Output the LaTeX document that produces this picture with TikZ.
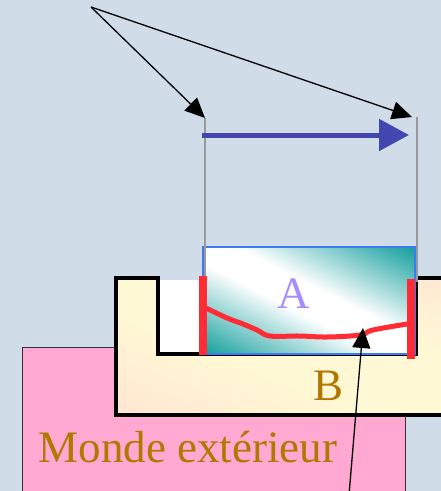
\documentclass[tikz,border=0pt]{standalone}
\usepackage{fontspec}
\setmainfont{Liberation Serif}
\usetikzlibrary{arrows.meta}
\definecolor{bgblue}{HTML}{D0DCE8}
\definecolor{worldpink}{HTML}{FFA8D2}
\definecolor{byellow}{HTML}{FFF8D4}
\definecolor{bpink}{HTML}{FFDAD2}
\definecolor{ateal}{HTML}{109E9C}
\definecolor{aborder}{HTML}{3C7CF0}
\definecolor{alabel}{HTML}{A68CFF}
\definecolor{gold}{HTML}{B07800}
\definecolor{redline}{HTML}{FF2C36}
\definecolor{bluearrow}{HTML}{4048B0}
\pgfdeclareverticalshading{aglass}{100bp}{color(0bp)=(ateal); color(30bp)=(ateal);
  color(47bp)=(white); color(53bp)=(white); color(70bp)=(ateal); color(100bp)=(ateal)}
\pgfdeclareverticalshading{bglow}{100bp}{color(0bp)=(bpink); color(22bp)=(bpink);
  color(45bp)=(byellow); color(58bp)=(byellow); color(78bp)=(bpink); color(100bp)=(bpink)}
\begin{document}
\begin{tikzpicture}[x=1pt,y=-1pt,
    bigtext/.style={font=\fontsize{45}{50}\selectfont, inner sep=0pt, anchor=base},
    pointer/.style={-{Triangle[length=20pt,width=18pt]}, line width=1.3pt},
    guide/.style={line width=1.6pt, color=gray!80},
    redbar/.style={redline, line width=7.5pt}]
  \useasboundingbox[fill=bgblue] (0,0) rectangle (441,491);
  \clip (0,0) rectangle (441,491);
  % Outside world
  \draw[fill=worldpink, draw=black!80, line width=1pt] (22,347) rectangle (405,500);
  % Box B with its notch
  \begin{scope}
    \clip (116,278) -- (158,278) -- (158,354) -- (416,354) -- (416,278) -- (450,278)
      -- (450,415) -- (116,415) -- cycle;
    \shade[shading=bglow, shading angle=-22] (116,180) rectangle (450,513);
  \end{scope}
  \draw[line width=3.5pt, line join=miter]
    (450,278) -- (416,278) -- (416,354) -- (158,354) -- (158,278) -- (116,278)
    -- (116,415) -- (450,415);
  \fill[white] (160,280) rectangle (203,352);
  % Box A
  \begin{scope}
    \clip (203,247) rectangle (415,354);
    \shade[shading=aglass, shading angle=-27] (189,180.5) rectangle (429,420.5);
  \end{scope}
  \draw[aborder, line width=1.5pt] (203,247) rectangle (415,354);
  % Guides and motion arrow
  \draw[guide] (205,118) -- (205,278);
  \draw[guide] (417,117) -- (417,282);
  \coordinate (startM) at (202,135);
  \coordinate (endM) at (409,135);
  \draw[bluearrow, line width=5pt, -{Triangle[length=30pt,width=31pt]}] (startM) -- (endM);
  % Labels
  \node[bigtext, alabel] (labA) at (294,308) {A};
  \node[bigtext, gold] (labB) at (329,400) {B};
  \node[bigtext, gold] (labW) at (188,462) {Monde extérieur};
  % Red contact lines
  \draw[redbar] (203,276) -- (203,355);
  \draw[redbar] (411,279) -- (411,359);
  \draw[redline, line width=5pt, line cap=round] plot[smooth, tension=0.6] coordinates
    {(206,308) (227,318) (243,324) (257,330) (270,336) (300,336) (327,337) (360,335) (373,330) (407,324)};
  % Pointers
  \coordinate (src) at (91,7);
  \coordinate (tipL) at (205,118);
  \coordinate (tipR) at (412,117);
  \coordinate (low) at (349,495);
  \coordinate (tipC) at (363,328);
  \draw[pointer] (src) -- (tipL);
  \draw[pointer] (src) -- (tipR);
  \draw[pointer] (low) -- (tipC);
\end{tikzpicture}
\end{document}
